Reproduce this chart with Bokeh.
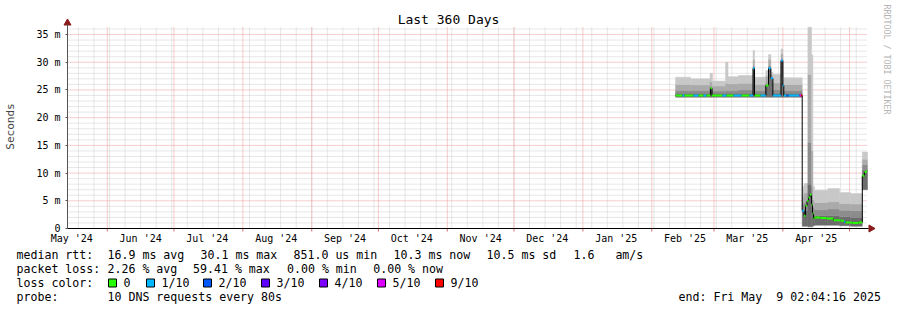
import math
import pandas as pd
from bokeh.plotting import figure
from bokeh.models import Range1d, FixedTicker, ColumnDataSource, LinearAxis
from bokeh.core.properties import value
from bokeh.embed import file_html
from bokeh.resources import INLINE

# ---------------- data ----------------
END = pd.Timestamp("2025-05-09 02:04:16")
SPAN_DAYS = 360
START = END - pd.Timedelta(days=SPAN_DAYS)
Y_MAX = 36.45

month_starts = ["2024-06-01", "2024-07-01", "2024-08-01", "2024-09-01", "2024-10-01",
                "2024-11-01", "2024-12-01", "2025-01-01", "2025-02-01", "2025-03-01",
                "2025-04-01", "2025-05-01"]
label_months = ["2024-05-01", "2024-06-01", "2024-07-01", "2024-08-01", "2024-09-01",
                "2024-10-01", "2024-11-01", "2024-12-01", "2025-01-01", "2025-02-01",
                "2025-03-01", "2025-04-01"]
month_labels = ["May '24", "Jun '24", "Jul '24", "Aug '24", "Sep '24", "Oct '24",
                "Nov '24", "Dec '24", "Jan '25", "Feb '25", "Mar '25", "Apr '25"]

y_ticks = [0, 5, 10, 15, 20, 25, 30, 35]
y_tick_labels = ["0", "5 m", "10 m", "15 m", "20 m", "25 m", "30 m", "35 m"]

loss_colors = ["#26ff00", "#00b8ff", "#0059ff", "#5e00ff", "#7e00ff", "#dd00ff", "#ff0000"]
loss_labels = ["0", "1/10", "2/10", "3/10", "4/10", "5/10", "9/10"]

# median RTT (ms), run-length: value holds from time until next time
med_time = ["2025-02-11 17:00", "2025-02-14 20:00", "2025-02-15 18:00", "2025-02-19 19:00",
            "2025-02-22 01:00", "2025-02-24 07:00", "2025-02-25 16:00", "2025-02-27 11:00",
            "2025-02-28 03:00", "2025-03-04 20:00", "2025-03-06 16:00", "2025-03-09 19:00",
            "2025-03-13 10:00", "2025-03-17 00:00", "2025-03-18 14:00", "2025-03-19 06:00",
            "2025-03-21 23:00", "2025-03-24 08:00", "2025-03-25 13:00", "2025-03-26 14:00",
            "2025-03-27 12:00", "2025-03-31 04:00", "2025-04-01 00:00", "2025-04-01 10:00",
            "2025-04-02 16:00", "2025-04-03 13:00", "2025-04-08 12:00", "2025-04-09 04:00",
            "2025-04-09 17:00", "2025-04-10 13:00", "2025-04-11 05:00", "2025-04-11 21:00",
            "2025-04-12 13:00", "2025-04-13 05:00", "2025-04-13 22:00", "2025-04-14 08:00",
            "2025-04-14 19:00", "2025-04-15 06:00", "2025-04-17 23:00", "2025-04-20 16:00",
            "2025-04-23 19:00", "2025-04-26 23:00", "2025-04-28 13:00", "2025-04-29 05:00",
            "2025-05-02 08:00", "2025-05-05 01:00", "2025-05-06 18:00", "2025-05-07 18:00",
            "2025-05-08 10:00"]
med_ms = [24.0, 24.0, 24.0, 24.0, 24.0, 24.0, 24.0, 25.3,
          24.0, 24.0, 24.0, 24.0, 24.0, 24.0, 28.9, 24.0,
          24.0, 25.8, 28.9, 27.1, 24.0, 30.3, 25.8, 24.0,
          24.0, 24.0, 24.0, 24.0, 3.2, 2.3, 4.1, 5.0,
          5.6, 6.1, 4.3, 2.7, 1.8, 2.0, 1.9, 1.8,
          1.5, 1.4, 1.2, 1.1, 1.0, 1.1, 9.5, 10.2,
          10.3]
med_loss = [0, 1, 0, 1, 0, 1, 0, 0,
            0, 1, 0, 1, 0, 1, 1, 0,
            1, 0, 1, 1, 1, 1, 1, 1,
            2, 1, 5, 6, 1, 0, 0, 0,
            0, 0, 0, 0, 0, 0, 0, 0,
            0, 0, 1, 0, 0, 0, 0, 0,
            0]

# smoke (ping spread, ms), run-length
smoke_time = ["2025-02-11 17:00", "2025-02-18 11:00", "2025-02-27 05:00", "2025-02-28 08:00",
              "2025-03-06 05:00", "2025-03-07 08:00", "2025-03-12 01:00", "2025-03-18 14:00",
              "2025-03-19 06:00", "2025-03-24 08:00", "2025-03-25 13:00", "2025-03-26 14:00",
              "2025-03-27 12:00", "2025-03-31 04:00", "2025-04-01 00:00", "2025-04-01 10:00",
              "2025-04-09 17:00", "2025-04-10 13:00", "2025-04-12 06:00", "2025-04-13 22:00",
              "2025-04-14 12:00", "2025-04-15 06:00", "2025-04-21 06:00", "2025-04-26 12:00",
              "2025-05-01 11:00", "2025-05-06 18:00"]
smoke_lo = [23.7, 23.7, 23.7, 23.7, 23.7, 23.7, 23.7, 23.7, 23.7, 23.7, 23.7, 23.7, 23.7,
            23.7, 23.7, 23.7, 0.4, 0.4, 0.3, 0.3, 0.5, 0.6, 0.6, 0.5, 0.4, 7.0]
smoke_b0 = [24.4, 24.4, 25.3, 24.4, 24.4, 24.4, 24.4, 28.9, 24.4, 25.8, 28.9, 27.1, 24.4,
            30.3, 25.8, 24.4, 3.4, 3.2, 8.0, 4.0, 2.6, 2.3, 2.3, 2.1, 2.0, 10.5]
smoke_b1 = [24.9, 24.9, 25.6, 24.8, 24.9, 24.9, 25.0, 29.3, 24.9, 26.2, 29.3, 27.3, 25.0,
            30.6, 26.0, 24.9, 4.4, 4.6, 15.5, 7.5, 3.8, 3.4, 3.5, 3.3, 3.2, 11.5]
smoke_b2 = [26.0, 25.9, 26.5, 25.7, 26.2, 26.1, 26.2, 30.5, 26.0, 27.5, 30.5, 27.8, 26.3,
            31.5, 26.8, 26.0, 5.8, 6.4, 27.8, 14.0, 5.2, 4.7, 4.8, 4.5, 4.4, 12.5]
smoke_top = [27.3, 27.0, 28.0, 26.6, 30.0, 27.4, 27.6, 32.1, 27.3, 28.5, 31.4, 28.2, 27.8,
             32.4, 27.5, 27.2, 7.6, 8.1, 36.3, 31.3, 7.6, 6.9, 7.2, 6.5, 6.3, 13.8]
smoke_shades = ["#6c6c6c", "#8c8c8c", "#aaaaaa", "#c8c8c8"]

stat_line1 = [("median rtt:", 16), ("16.9 ms avg", 107), ("30.1 ms max", 200),
              ("851.0 us min", 293), ("10.3 ms now", 393), ("10.5 ms sd", 486),
              ("1.6   am/s", 573)]
stat_line2 = [("packet loss:", 16), ("2.26 % avg", 107), ("59.41 % max", 192.5),
              ("0.00 % min", 286.5), ("0.00 % now", 372.7)]
probe_line = [("probe:", 16), ("10 DNS requests every 80s", 107),
              ("end: Fri May  9 02:04:16 2025", 678)]

# ---------------- layout helpers ----------------
MONO = "DejaVu Sans Mono"
W, H = 897, 310
FL, FT, FR, FB = 67, 26, 867, 228          # plotting area in canvas px
PX_PER_DAY = (FR - FL) / SPAN_DAYS
PX_PER_MS = (FB - FT) / Y_MAX

def days(ts):
    return [float((pd.Timestamp(t) - START) / pd.Timedelta(days=1)) for t in ts]

def dx(X):  # canvas px -> day offset
    return (X - FL) / PX_PER_DAY

def dy(Y):  # canvas px -> ms
    return (FB - Y) / PX_PER_MS

def mono_text(s):  # keep runs of spaces in SVG text
    return s.replace(" ", "\u00a0")

# ---------------- figure (frame = whole canvas) ----------------
p = figure(width=W, height=H, output_backend="svg", toolbar_location=None,
           x_range=Range1d(dx(0), dx(W)), y_range=Range1d(dy(H), dy(0)),
           x_axis_location=None, y_axis_location=None, min_border=0)
p.background_fill_color = "white"
p.border_fill_color = "white"
p.outline_line_color = None
p.grid.visible = False

# grid lines
week_days = days(pd.date_range("2024-05-19", "2025-05-04", freq="7D"))
mdays = days(month_starts)
minor_y = [v for v in range(1, 37) if v % 5 != 0]
GRID_C, MGRID_C = "#cfcfcf", "#ee9a9a"
p.segment(x0=week_days, x1=week_days, y0=[0] * len(week_days), y1=[Y_MAX] * len(week_days),
          line_color=GRID_C, line_dash="1 1", line_width=1)
p.segment(x0=[0] * len(minor_y), x1=[SPAN_DAYS] * len(minor_y), y0=minor_y, y1=minor_y,
          line_color=GRID_C, line_dash="1 1", line_width=1)
p.segment(x0=mdays, x1=mdays, y0=[0] * len(mdays), y1=[Y_MAX] * len(mdays),
          line_color=MGRID_C, line_dash="1 1", line_width=1)
p.segment(x0=[0] * 7, x1=[SPAN_DAYS] * 7, y0=y_ticks[1:], y1=y_ticks[1:],
          line_color=MGRID_C, line_dash="1 1", line_width=1)
# small month tick marks under the time axis
p.segment(x0=mdays, x1=mdays, y0=[0] * len(mdays), y1=[dy(231)] * len(mdays),
          line_color="#d46a6a", line_width=1)

# axes, drawn at fixed data locations
label_pos = [d + 15.0 for d in days(label_months)]
xax = LinearAxis(fixed_location=0, ticker=FixedTicker(ticks=label_pos),
                 major_label_overrides={pos: lab for pos, lab in zip(label_pos, month_labels)},
                 bounds=(0, dx(868)), major_tick_line_color=None, minor_tick_line_color=None,
                 major_tick_out=0, major_tick_in=0, major_label_standoff=4,
                 axis_line_color="black", major_label_text_font=MONO,
                 major_label_text_font_size="10px", major_label_text_color="black")
p.add_layout(xax, "below")
yax = LinearAxis(fixed_location=0, ticker=FixedTicker(ticks=y_ticks),
                 major_label_overrides={t: lab for t, lab in zip(y_ticks, y_tick_labels)},
                 bounds=(0, dy(24)), minor_tick_line_color=None, major_tick_out=2,
                 major_tick_in=0, major_label_standoff=5, axis_line_color="#555555",
                 major_tick_line_color="#555555", major_label_text_font=MONO,
                 major_label_text_font_size="10px", major_label_text_color="black",
                 axis_label="Seconds", axis_label_text_font=MONO,
                 axis_label_text_font_size="11px", axis_label_text_font_style="normal",
                 axis_label_standoff=16)
p.add_layout(yax, "left")

# smoke
st = days(smoke_time) + [float(SPAN_DAYS)]
ql, qr, qb, qt, qc = [], [], [], [], []
for i in range(len(smoke_time)):
    levels = [smoke_lo[i], smoke_b0[i], smoke_b1[i], smoke_b2[i], smoke_top[i]]
    for k in range(4):
        ql.append(st[i]); qr.append(st[i + 1])
        qb.append(levels[k]); qt.append(levels[k + 1]); qc.append(smoke_shades[k])
p.quad(left="l", right="r", bottom="b", top="t", fill_color="c", line_color="c",
       line_width=0.5, source=ColumnDataSource(dict(l=ql, r=qr, b=qb, t=qt, c=qc)))

# median: black connecting step, then loss-coloured segments
mt = days(med_time) + [float(SPAN_DAYS) - 0.15]
p.step(x=mt, y=med_ms + [med_ms[-1]], mode="after", line_color="black", line_width=1)
p.segment(x0="x0", x1="x1", y0="y", y1="y", line_color="c", line_width=2,
          source=ColumnDataSource(dict(x0=mt[:-1], x1=mt[1:], y=med_ms,
                                       c=[loss_colors[k] for k in med_loss])))

# axis arrows
p.scatter(x=[0], y=[dy(22.5)], marker="triangle", size=7, fill_color="#8b1a1a",
          line_color="#8b1a1a")
p.scatter(x=[dx(870.5)], y=[0], marker="triangle", size=7, angle=-math.pi / 2,
          fill_color="#8b1a1a", line_color="#8b1a1a")

# title and watermark
p.text(x=[dx(448)], y=[dy(19)], text=[mono_text("Last 360 Days")], text_font=value(MONO),
       text_font_size="13px", text_color="black", text_align="center",
       text_baseline="middle")
p.text(x=[dx(886)], y=[dy(4)], text=[mono_text("RRDTOOL / TOBI OETIKER")],
       angle=-math.pi / 2, text_font=value(MONO), text_font_size="8.3px",
       text_color="#b4b4b4", text_align="left", text_baseline="middle")

# legend
tx, ty, tt = [], [], []
for row, Y in ((stat_line1, 254), (stat_line2, 268), ([("loss color:", 16)], 282),
               (probe_line, 296)):
    for s, X in row:
        tx.append(dx(X)); ty.append(dy(Y)); tt.append(mono_text(s))
box_x = [108, 146, 203, 261, 319, 377, 435]
for lab, X in zip(loss_labels, box_x):
    tx.append(dx(X + 15)); ty.append(dy(282)); tt.append(mono_text(lab))
p.text(x=tx, y=ty, text=tt, text_font=value(MONO), text_font_size="11.6px",
       text_color="black", text_align="left", text_baseline="middle")
p.rect(x=[dx(X + 4) for X in box_x], y=[dy(282.5)] * len(box_x), width=8, height=8,
       width_units="screen", height_units="screen",
       fill_color=loss_colors, line_color="black", line_width=1)

open("out.html", "w").write(file_html(p, INLINE))
